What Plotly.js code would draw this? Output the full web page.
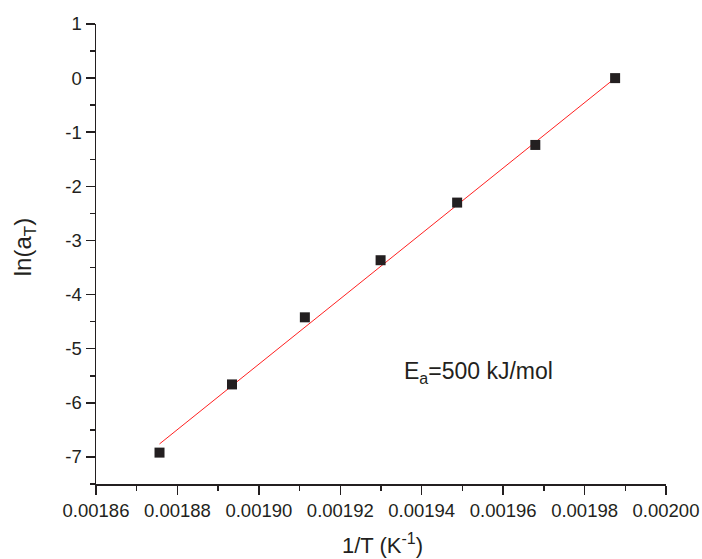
<!DOCTYPE html>
<html>
<head>
<meta charset="utf-8">
<script src="https://cdn.plot.ly/plotly-3.0.1.min.js"></script>
<style>html,body{margin:0;padding:0;background:#fff;}#chart{width:702px;height:559px;}</style>
</head>
<body>
<div id="chart"></div>
<script>
// Data
const invT = [0.0018756, 0.0018934, 0.0019113, 0.0019299, 0.0019487, 0.0019679, 0.0019875];
const lnAT = [-6.92, -5.66, -4.42, -3.365, -2.30, -1.235, 0.0];
const fitX = [0.0018756, 0.0019875];
const fitY = [-6.76, 0.0];
const yTickVals = [1, 0, -1, -2, -3, -4, -5, -6, -7];
const yTickText = ['1', '0', '-1', '-2', '-3', '-4', '-5', '-6', '-7'];
const xTickVals = [0.00186, 0.00188, 0.00190, 0.00192, 0.00194, 0.00196, 0.00198, 0.00200];
const xTickText = ['0.00186', '0.00188', '0.00190', '0.00192', '0.00194', '0.00196', '0.00198', '0.00200'];

const ink = '#231f20';
const fam = 'Liberation Sans, Arial, sans-serif';
const fnt = {family: fam, size: 18.5, color: ink};

const traces = [
  {x: fitX, y: fitY, mode: 'lines', line: {color: '#ff2020', width: 1}, hoverinfo: 'skip'},
  {x: invT, y: lnAT, mode: 'markers', marker: {symbol: 'square', size: 10, color: ink}}
];

const layout = {
  width: 702, height: 559,
  margin: {l: 96, r: 36, t: 24, b: 75},
  paper_bgcolor: '#fff', plot_bgcolor: '#fff',
  showlegend: false,
  font: fnt,
  xaxis: {
    range: [0.00186, 0.00200],
    tickmode: 'array', tickvals: xTickVals, ticktext: xTickText,
    ticks: 'outside', ticklen: 9, tickwidth: 1.5, tickcolor: ink,
    minor: {ticks: 'outside', ticklen: 5, tickwidth: 1.5, tickcolor: ink, dtick: 0.00001, tick0: 0.00186, showgrid: false},
    showline: true, linecolor: ink, linewidth: 1.5,
    showgrid: false, zeroline: false,
    tickfont: fnt
  },
  yaxis: {
    range: [-7.5, 1],
    tickmode: 'array', tickvals: yTickVals, ticktext: yTickText,
    ticks: 'outside', ticklen: 9, tickwidth: 1.5, tickcolor: ink,
    minor: {ticks: 'outside', ticklen: 5, tickwidth: 1.5, tickcolor: ink, dtick: 0.5, tick0: 0, showgrid: false},
    showline: true, linecolor: ink, linewidth: 1.5,
    showgrid: false, zeroline: false,
    tickfont: fnt
  },
  annotations: [
    {
      x: 0.0019352, y: -5.44, xref: 'x', yref: 'y', xanchor: 'left', yanchor: 'middle',
      text: 'E<sub><span style="font-size:16px">a</span></sub>=500 kJ/mol', showarrow: false,
      font: {family: fam, size: 23, color: ink}
    },
    {
      x: 0.502, y: -0.130, xref: 'paper', yref: 'paper', xanchor: 'center', yanchor: 'middle',
      text: '1/T (K<sup><span style="font-size:16px">-1</span></sup>)', showarrow: false,
      font: {family: fam, size: 22, color: ink}
    },
    {
      x: -0.126, y: 0.515, xref: 'paper', yref: 'paper', xanchor: 'center', yanchor: 'middle',
      textangle: -90,
      text: 'ln(a<sub><span style="font-size:17px">T</span></sub>)', showarrow: false,
      font: {family: fam, size: 24, color: ink}
    }
  ]
};

Plotly.newPlot('chart', traces, layout, {displayModeBar: false, staticPlot: true});
</script>
</body>
</html>
